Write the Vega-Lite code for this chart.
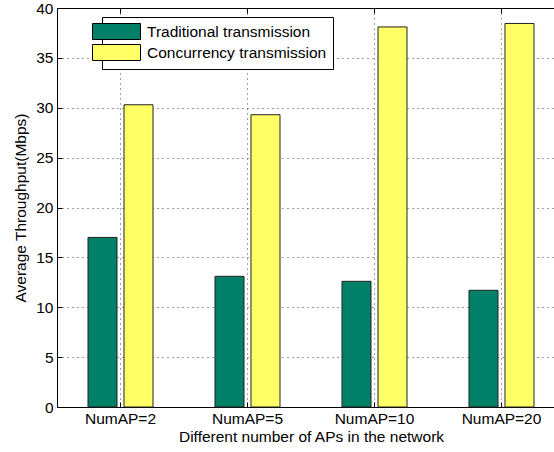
{
  "$schema": "https://vega.github.io/schema/vega-lite/v6.json",
  "width": 508,
  "height": 399,
  "autosize": "none",
  "padding": {"left": 57, "top": 8, "right": 0, "bottom": 45},
  "background": "white",
  "config": {
    "font": "Liberation Sans",
    "view": {"stroke": "#000", "strokeWidth": 1},
    "axis": {
      "labelFont": "Liberation Sans",
      "labelFontSize": 15.5,
      "labelColor": "#000",
      "titleFont": "Liberation Sans",
      "titleFontSize": 15.5,
      "titleFontWeight": "normal",
      "titleColor": "#000",
      "domainColor": "#000",
      "tickColor": "#000",
      "gridColor": "#000",
      "gridDash": [1, 4],
      "gridOpacity": 0.75
    },
    "legend": {
      "labelFont": "Liberation Sans",
      "labelFontSize": 15.5,
      "labelColor": "#000"
    }
  },
  "data": {
    "values": [
      {"numap": "NumAP=2", "method": "Traditional transmission", "throughput": 17.0},
      {"numap": "NumAP=2", "method": "Concurrency transmission", "throughput": 30.3},
      {"numap": "NumAP=5", "method": "Traditional transmission", "throughput": 13.1},
      {"numap": "NumAP=5", "method": "Concurrency transmission", "throughput": 29.3},
      {"numap": "NumAP=10", "method": "Traditional transmission", "throughput": 12.6},
      {"numap": "NumAP=10", "method": "Concurrency transmission", "throughput": 38.1},
      {"numap": "NumAP=20", "method": "Traditional transmission", "throughput": 11.7},
      {"numap": "NumAP=20", "method": "Concurrency transmission", "throughput": 38.45}
    ]
  },
  "layer": [
    {
      "mark": {"type": "bar", "stroke": "#222", "strokeWidth": 1},
      "encoding": {
        "x": {
          "field": "numap",
          "type": "nominal",
          "sort": ["NumAP=2", "NumAP=5", "NumAP=10", "NumAP=20"],
          "scale": {"paddingInner": 0.488, "paddingOuter": 0.244},
          "axis": {
            "title": "Different number of APs in the network",
            "labelAngle": 0,
            "bandPosition": 0.5,
            "grid": true,
            "tickSize": -5,
            "labelPadding": 9,
            "titlePadding": 3
          }
        },
        "xOffset": {
          "field": "method",
          "sort": ["Traditional transmission", "Concurrency transmission"],
          "scale": {"paddingInner": 0.194, "paddingOuter": 0}
        },
        "y": {
          "field": "throughput",
          "type": "quantitative",
          "scale": {"domain": [0, 40], "nice": false},
          "axis": {
            "title": "Average Throughput(Mbps)",
            "values": [0, 5, 10, 15, 20, 25, 30, 35, 40],
            "tickSize": -5,
            "labelPadding": 9,
            "titlePadding": 7,
            "grid": true
          }
        },
        "color": {
          "field": "method",
          "type": "nominal",
          "sort": ["Traditional transmission", "Concurrency transmission"],
          "scale": {
            "domain": ["Traditional transmission", "Concurrency transmission"],
            "range": ["#008066", "#FFFF66"]
          },
          "legend": {
            "title": null,
            "orient": "none",
            "legendX": 45,
            "legendY": 9,
            "symbolType": "M-3,-1H3V1H-3Z",
            "symbolSize": 256,
            "symbolStrokeColor": "#000",
            "symbolStrokeWidth": 1,
            "symbolOpacity": 1,
            "labelOffset": 22,
            "rowPadding": 0,
            "padding": 6,
            "strokeColor": "#000",
            "fillColor": "white",
            "labelLimit": 400
          }
        }
      }
    },
    {
      "mark": {"type": "bar", "opacity": 0},
      "encoding": {
        "x": {
          "field": "numap",
          "type": "nominal",
          "sort": ["NumAP=2", "NumAP=5", "NumAP=10", "NumAP=20"],
          "scale": {"paddingInner": 0.488, "paddingOuter": 0.244},
          "axis": {
            "orient": "top",
            "title": null,
            "labels": false,
            "domain": false,
            "grid": false,
            "bandPosition": 0.5,
            "tickSize": -5
          }
        },
        "y": {"field": "throughput", "type": "quantitative"}
      }
    }
  ],
  "resolve": {"axis": {"x": "independent"}}
}
